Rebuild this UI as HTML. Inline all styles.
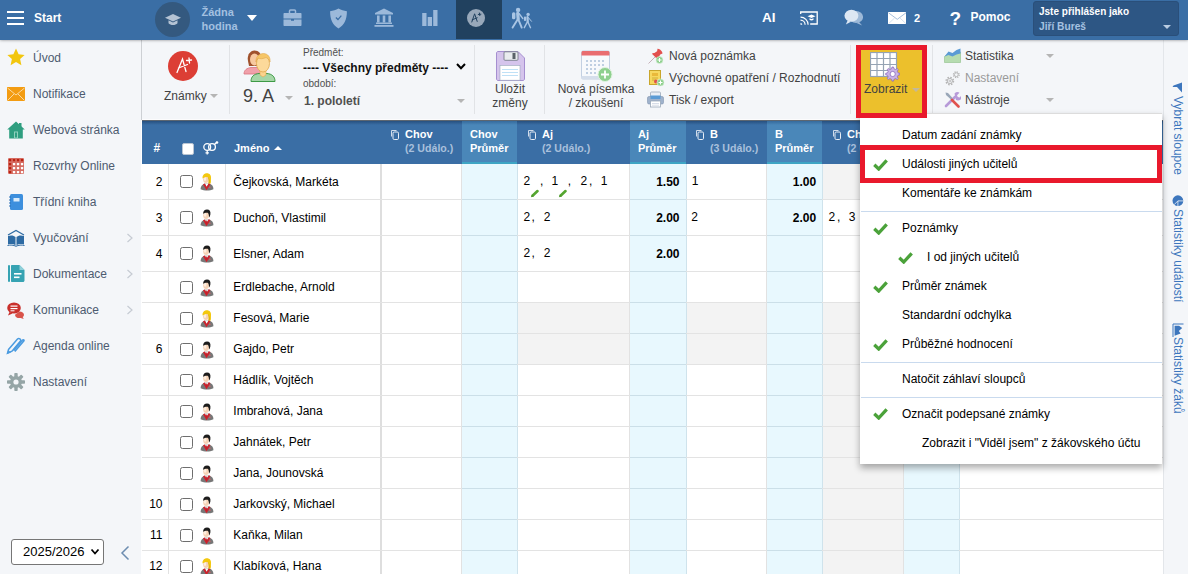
<!DOCTYPE html>
<html><head><meta charset="utf-8"><title>Známky</title>
<style>
*{box-sizing:border-box;margin:0;padding:0}
html,body{width:1188px;height:574px;overflow:hidden;background:#fff;font-family:"Liberation Sans",sans-serif;font-size:12px;color:#000}
.abs{position:absolute}
#top{position:absolute;left:0;top:0;width:1188px;height:40px;background:#3a6ea5;box-shadow:0 0 3px rgba(0,0,0,.45);z-index:3}
#top .t{position:absolute;color:#fff;font-weight:bold;font-size:12px;white-space:nowrap;line-height:14px}
#side{position:absolute;left:0;top:40px;width:141px;height:534px;background:#f4f6f9}
#side .it{position:absolute;left:33px;font-size:12px;color:#4d5b70;white-space:nowrap;line-height:14px}
#side .ch{position:absolute;left:126px}
#tb{position:absolute;left:142px;top:40px;width:1021px;height:80px;background:#f4f6f9;border-bottom:1px solid #fcfcfd}
#tbl{position:absolute;left:142px;top:120px;width:1021px;height:1px;background:#5d6670}
#sbl{position:absolute;left:141px;top:40px;width:1px;height:80px;background:#cdd0d4}
#tb .l{position:absolute;font-size:12px;color:#424242;white-space:nowrap;line-height:14px}
#tb .sep{position:absolute;top:5px;width:1px;height:69px;background:#e1e3e6}
.dd{position:absolute;width:0;height:0;border-left:4px solid transparent;border-right:4px solid transparent;border-top:4px solid #b5b5b5}
#grid{position:absolute;left:142px;top:121px;width:1021px;height:453px;background:#fff;overflow:hidden}
#hdr{position:absolute;left:0;top:0;width:1021px;height:43px;background:linear-gradient(#27507f,#3a6ea5 4px)}
.h{position:absolute;color:#fff;font-weight:bold;font-size:11px;white-space:nowrap;line-height:14px}
.sub{color:#a9c0dc;font-size:10.600px}
.avg{position:absolute;top:0;height:43px;background:linear-gradient(#356a9c,#4a87b9 4px);border-bottom:2px solid #3ea5c4}
.col{position:absolute;top:43px;height:411px}
.cell{position:absolute;font-size:12px;white-space:nowrap;line-height:14px}
.cb{position:absolute;width:13px;height:13px;border:1px solid #6e6e6e;border-radius:2.500px;background:#fff}
#right{position:absolute;left:1163px;top:40px;width:25px;height:534px;background:#f4f6f9;border-left:1px solid #e3e6ea}
.vt{position:absolute;left:1176px;transform-origin:0 0;transform:rotate(90deg);color:#3d76bd;font-size:12px;white-space:nowrap;line-height:14px}
#menu{position:absolute;left:860px;top:113px;width:302px;height:350.500px;background:#fff;border-top:1px solid #dcdcdc;box-shadow:0 4px 7px rgba(0,0,0,.33)}
#menu .mi{position:absolute;left:42px;font-size:12px;color:#000;white-space:nowrap;line-height:14px}
#menu .hr{position:absolute;left:1px;width:301px;height:1px;background:#c9daee}
</style></head><body>
<div id="top">
<div class="abs" style="left:7px;top:11px;width:17px;height:2px;background:#fff"></div>
<div class="abs" style="left:7px;top:17px;width:17px;height:2px;background:#fff"></div>
<div class="abs" style="left:7px;top:23px;width:17px;height:2px;background:#fff"></div>
<div class="t" style="left:34px;top:11px">Start</div>
<div class="abs" style="left:155px;top:2px;width:35px;height:35px;border-radius:17.500px;background:#34597f"></div>
<svg class="abs" style="left:164px;top:11.500px" width="18" height="16" viewBox="0 0 18 16"><path d="M9 2l8 3.800-8 3.800-8-3.800z" fill="#b4c3d4"/><path d="M4.500 8.300v3c1 1.200 2.700 1.800 4.500 1.800s3.500-.6 4.500-1.800v-3l-4.500 2.200z" fill="#b4c3d4"/></svg>
<div class="t" style="left:201.500px;top:5px;color:#a3c0e0;font-size:11px;line-height:14.300px">Žádna<br>hodina</div>
<div class="abs" style="left:246.500px;top:15px;width:0;height:0;border-left:5.500px solid transparent;border-right:5.500px solid transparent;border-top:6px solid #fff"></div>
<!-- briefcase -->
<svg class="abs" style="left:282.500px;top:9px" width="19" height="18" viewBox="0 0 19 18"><path d="M6.500 4v-2c0-.6.400-1 1-1h4c.6 0 1 .4 1 1v2" fill="none" stroke="#9cb9da" stroke-width="1.500"/><path d="M1.500 4h16c.6 0 1 .4 1 1v4.500h-18v-4.500c0-.6.400-1 1-1z" fill="#9cb9da"/><path d="M.5 10.500h7.500v1.200h3v-1.200h7.500v5.500c0 .6-.4 1-1 1h-16c-.6 0-1-.4-1-1z" fill="#9cb9da"/></svg>
<!-- shield -->
<svg class="abs" style="left:328.500px;top:7.500px" width="19" height="21" viewBox="0 0 18 20"><path d="M9 .5c2.500 1.500 5 2.300 8 2.500 0 8-2.500 13-8 16.500C3.500 16 1 11 1 3c3-.2 5.500-1 8-2.500z" fill="#9cb9da"/><path d="M6.500 9l2 2 3.200-3.800" fill="none" stroke="#3a6ea5" stroke-width="1.200"/></svg>
<!-- bank -->
<svg class="abs" style="left:374px;top:8px" width="20" height="19" viewBox="0 0 20 19"><path d="M10 .5l9 4.500v1.500h-18v-1.500z" fill="#9cb9da"/><rect x="3" y="7.500" width="2.600" height="7" fill="#9cb9da"/><rect x="8.700" y="7.500" width="2.600" height="7" fill="#9cb9da"/><rect x="14.400" y="7.500" width="2.600" height="7" fill="#9cb9da"/><rect x="2" y="14.500" width="16" height="1.500" fill="#9cb9da"/><rect x=".5" y="17" width="19" height="1.800" fill="#9cb9da"/></svg>
<!-- bars -->
<svg class="abs" style="left:421px;top:10px" width="17" height="16" viewBox="0 0 17 16"><rect x="1.200" y="3" width="4.300" height="13" fill="#9cb9da"/><rect x="6.700" y="7" width="4.300" height="9" fill="#9cb9da"/><rect x="12.200" y="0" width="4.300" height="16" fill="#9cb9da"/></svg>
<!-- active -->
<div class="abs" style="left:456px;top:0;width:46px;height:38.500px;background:#21415f"></div>
<div class="abs" style="left:467px;top:9px;width:18px;height:18px;border-radius:9px;background:#98a8ba"></div>
<svg class="abs" style="left:467px;top:9px" width="18" height="18" viewBox="0 0 18 18"><path d="M4.800 13l2.800-8.200 2.600 7.600M5.200 10.800l5-2M11.300 5.500l2.600-.3M12.400 4l.4 2.600" fill="none" stroke="#21415f" stroke-width="1" stroke-linecap="round"/></svg>
<!-- walkers -->
<svg class="abs" style="left:510px;top:7px" width="24" height="22" viewBox="0 0 24 22"><g fill="none" stroke="#a9c5e4" stroke-linecap="round"><circle cx="8.100" cy="2.900" r="2.200" fill="#a9c5e4" stroke="none"/><path d="M7.700 6.300L8.200 12" stroke-width="3.200"/><rect x="2" y="5.200" width="3.400" height="7" rx="1.500" fill="#a9c5e4" stroke="none"/><path d="M7.800 12.200L2.600 20.600M8.200 12.200L11.700 20.600" stroke-width="1.900"/><path d="M9 6.500L12.800 11.500" stroke-width="1.300"/><circle cx="18.100" cy="7.400" r="1.700" fill="#a9c5e4" stroke="none"/><path d="M17.500 10.200L17.700 14.500" stroke-width="2.300"/><rect x="13.900" y="9.600" width="2.200" height="4.500" rx="1" fill="#a9c5e4" stroke="none"/><path d="M17.500 14.700L14.300 20.700M17.800 14.700L20.500 20.700" stroke-width="1.400"/><path d="M18.300 10.500L21.500 14.300" stroke-width="1"/></g></svg>
<div class="t" style="left:762px;top:11px;font-size:13.500px">AI</div>
<!-- cast -->
<svg class="abs" style="left:800px;top:11px" width="18" height="15" viewBox="0 0 18 15"><path d="M.7 3v-2h16.500v12h-7" fill="none" stroke="#fff" stroke-width="1.300"/><path d="M.5 13.800v-1.800a1.800 1.800 0 0 1 1.800 1.800z" fill="#fff"/><path d="M.5 9.200a4.600 4.600 0 0 1 4.600 4.600M.5 6.200a7.600 7.600 0 0 1 7.600 7.600" fill="none" stroke="#fff" stroke-width="1.200"/><path d="M11.500 3.500l4 1.800-4 1.800-4-1.800z M9.500 7.200v1.500c1 1 3 1 4 0v-1.500l-2 .9z" fill="#fff"/></svg>
<!-- chat -->
<svg class="abs" style="left:843.500px;top:9px" width="19.500" height="18" viewBox="0 0 21 19"><ellipse cx="13" cy="8.500" rx="7.500" ry="6.500" fill="#9db9d8"/><path d="M16 13.500l3.500 4-6-2.500z" fill="#9db9d8"/><ellipse cx="8" cy="7" rx="7.500" ry="6.500" fill="#dce7f3"/><path d="M4 12l-2 4.500 5.500-3z" fill="#dce7f3"/></svg>
<!-- envelope -->
<svg class="abs" style="left:887.700px;top:11.700px" width="18.500" height="12.200" viewBox="0 0 20 13" preserveAspectRatio="none"><rect x="0" y="0" width="20" height="13" fill="#fff"/><path d="M.5 .8l9.500 7 9.500-7" fill="none" stroke="#9db9d8" stroke-width="1"/><path d="M.5 12.500l6.500-6M19.500 12.500l-6.500-6" fill="none" stroke="#c9d8ea" stroke-width=".8"/></svg>
<div class="t" style="left:914px;top:11px;font-size:11px">2</div>
<div class="t" style="left:949.500px;top:8px;font-size:19px;line-height:22px">?</div>
<div class="t" style="left:970.500px;top:10px">Pomoc</div>
<div class="abs" style="left:1033px;top:1px;width:146px;height:35px;background:#2d5684;border:1px solid #2a4f7a;border-radius:3px"></div>
<div class="t" style="left:1039px;top:5px;font-size:10px">Jste přihlášen jako</div>
<div class="t" style="left:1039px;top:19.600px;font-size:10.200px;color:#a6c2e1">Jiří Bureš</div>
<div class="abs" style="left:1163px;top:25px;width:0;height:0;border-left:4px solid transparent;border-right:4px solid transparent;border-top:4px solid #b9cce2"></div>

</div>
<div id="side">
<!-- y positions relative to #side (top=40) -->
<svg class="abs" style="left:7px;top:8px" width="18" height="18" viewBox="0 0 18 18"><path d="M9 .5l2.600 5.700 6 .7-4.500 4.100 1.300 6.200-5.400-3.200-5.400 3.200 1.300-6.200-4.500-4.100 6-.7z" fill="#f2c60e"/></svg>
<div class="it" style="top:11px">Úvod</div>
<svg class="abs" style="left:7px;top:47px" width="18" height="14" viewBox="0 0 18 14"><rect width="18" height="14" fill="#f39c12"/><path d="M.5 1l8.500 7 8.500-7M.5 13.500l6.500-6.500M17.500 13.500l-6.500-6.500" fill="none" stroke="#fbd9a0" stroke-width="1"/></svg>
<div class="it" style="top:47px">Notifikace</div>
<svg class="abs" style="left:7px;top:81px" width="18" height="18" viewBox="0 0 18 18"><path d="M9 .5l8.800 8h-2v9h-13.600v-9h-2z" fill="#2f9e80"/><rect x="12" y="2" width="2.500" height="4" fill="#2f9e80"/><rect x="7" y="10.500" width="4" height="6.500" fill="#8fd1bd"/><rect x="8" y="11.500" width="2" height="5" fill="#2f9e80"/></svg>
<div class="it" style="top:83px">Webová stránka</div>
<svg class="abs" style="left:8px;top:118px" width="16" height="16" viewBox="0 0 16 16"><rect width="16" height="16" rx="1.200" fill="#d66c62"/><rect x="0.9" y="0.9" width="2.300" height="2.300" rx=".5" fill="#b8200f"/><rect x="0.9" y="4.9" width="2.300" height="2.300" rx=".5" fill="#b8200f"/><rect x="0.9" y="8.9" width="2.300" height="2.300" rx=".5" fill="#b8200f"/><rect x="0.9" y="12.9" width="2.300" height="2.300" rx=".5" fill="#b8200f"/><rect x="4.9" y="0.9" width="2.300" height="2.300" rx=".5" fill="#b8200f"/><rect x="4.9" y="4.9" width="2.300" height="2.300" rx=".5" fill="#fff"/><rect x="4.9" y="8.9" width="2.300" height="2.300" rx=".5" fill="#fff"/><rect x="4.9" y="12.9" width="2.300" height="2.300" rx=".5" fill="#fff"/><rect x="8.9" y="0.9" width="2.300" height="2.300" rx=".5" fill="#b8200f"/><rect x="8.9" y="4.9" width="2.300" height="2.300" rx=".5" fill="#fff"/><rect x="8.9" y="8.9" width="2.300" height="2.300" rx=".5" fill="#fff"/><rect x="8.9" y="12.9" width="2.300" height="2.300" rx=".5" fill="#fff"/><rect x="12.9" y="0.9" width="2.300" height="2.300" rx=".5" fill="#b8200f"/><rect x="12.9" y="4.9" width="2.300" height="2.300" rx=".5" fill="#fff"/><rect x="12.9" y="8.9" width="2.300" height="2.300" rx=".5" fill="#fff"/><rect x="12.9" y="12.9" width="2.300" height="2.300" rx=".5" fill="#fff"/></svg>
<div class="it" style="top:119px">Rozvrhy Online</div>
<svg class="abs" style="left:9px;top:154px" width="14" height="16" viewBox="0 0 14 16"><rect x="1" y="0" width="13" height="16" rx="1.500" fill="#3d8fdd"/><rect x="4.500" y="4" width="6" height="3.500" fill="#d9ebfb"/><g stroke="#2a6fb5" stroke-width="1"><path d="M0 3h2M0 6h2M0 9h2M0 12h2"/></g></svg>
<div class="it" style="top:155px">Třídní kniha</div>
<svg class="abs" style="left:7px;top:189px" width="18" height="18" viewBox="0 0 18 18"><path d="M1 6l8-4.500 8 4.500" fill="none" stroke="#2d6aa3" stroke-width="1.200"/><path d="M1 7c3-1 6-.5 7.500 1v8.500c-1.500-1.300-4.500-1.800-7.500-1z" fill="#2d6aa3"/><path d="M17 7c-3-1-6-.5-7.500 1v8.500c1.500-1.300 4.500-1.800 7.500-1z" fill="#2d6aa3"/><path d="M.5 16.500c3-.8 6-.5 8.500.8 2.500-1.300 5.500-1.600 8.500-.8" fill="none" stroke="#2d6aa3" stroke-width="1"/></svg>
<div class="it" style="top:191px">Vyučování</div>
<svg class="abs" style="left:8px;top:225px" width="17" height="17" viewBox="0 0 17 17"><rect x="0" y="0" width="2" height="17" rx="1" fill="#36a3b3"/><path d="M4 0h7.500l5 5v10.500c0 .8-.7 1.500-1.500 1.500h-11c-.6 0-1-.4-1-1v-15c0-.6.400-1 1-1z" fill="#36a3b3"/><path d="M11.500 0v5h5z" fill="#8fd0da"/><rect x="6" y="8" width="7.500" height="1.600" fill="#fff"/><rect x="6" y="11.500" width="5.500" height="1.600" fill="#fff"/></svg>
<div class="it" style="top:227px">Dokumentace</div>
<svg class="abs" style="left:7px;top:262px" width="18" height="17" viewBox="0 0 18 17"><path d="M12.500 9.500c2.500 0 4.500 1.300 4.500 3.200 0 1-.6 1.800-1.300 2.400l1 1.900-3-1c-3 .5-5.700-.8-5.700-3.300z" fill="#d9534a"/><ellipse cx="7" cy="6" rx="6.800" ry="5.500" fill="#c9302c"/><path d="M2.500 10l-1.500 3.500 4.500-2z" fill="#c9302c"/><rect x="3.500" y="3.500" width="7" height="1.200" fill="#fff"/><rect x="3.500" y="6" width="7" height="1.200" fill="#fff"/><rect x="3.500" y="8.300" width="4" height="1" fill="#fff"/></svg>
<div class="it" style="top:263px">Komunikace</div>
<svg class="abs" style="left:6px;top:297px" width="19" height="18" viewBox="0 0 19 18"><path d="M2.500 12.500l9-10.500c1.500-1.500 4 .5 2.800 2.200l-8.300 10-4.500 2z" fill="none" stroke="#4a9be0" stroke-width="1.500"/><path d="M7.500 13.500l9-10.500c.8-.8 2 .2 1.300 1.100l-9 10.500" fill="none" stroke="#4a9be0" stroke-width="1.500"/><path d="M1 17l1.200-4 2.800 2.500z" fill="#4a9be0"/></svg>
<div class="it" style="top:299px">Agenda online</div>
<svg class="abs" style="left:7px;top:333px" width="18" height="18" viewBox="0 0 18 18"><g fill="#95a5a6"><circle cx="9" cy="9" r="6"/><g id="t"><rect x="7.300" y="0" width="3.400" height="18" rx=".8"/></g><rect x="7.300" y="0" width="3.400" height="18" rx=".8" transform="rotate(45 9 9)"/><rect x="7.300" y="0" width="3.400" height="18" rx=".8" transform="rotate(90 9 9)"/><rect x="7.300" y="0" width="3.400" height="18" rx=".8" transform="rotate(135 9 9)"/></g><circle cx="9" cy="9" r="2.600" fill="#f4f6f9"/></svg>
<div class="it" style="top:335px">Nastavení</div>
<svg class="ch" style="top:193px" width="8" height="10" viewBox="0 0 8 10"><path d="M1.500 1l4.500 4-4.500 4" fill="none" stroke="#c6cbd3" stroke-width="1.200"/></svg>
<svg class="ch" style="top:229px" width="8" height="10" viewBox="0 0 8 10"><path d="M1.500 1l4.500 4-4.500 4" fill="none" stroke="#c6cbd3" stroke-width="1.200"/></svg>
<svg class="ch" style="top:265px" width="8" height="10" viewBox="0 0 8 10"><path d="M1.500 1l4.500 4-4.500 4" fill="none" stroke="#c6cbd3" stroke-width="1.200"/></svg>
<!-- year select -->
<div class="abs" style="left:11px;top:499px;width:93px;height:26px;background:#fff;border:1px solid #767676;border-radius:3px"></div>
<div class="abs" style="left:23px;top:504px;font-size:13px;line-height:16px;color:#000">2025/2026</div>
<svg class="abs" style="left:90px;top:508px" width="10" height="8" viewBox="0 0 10 8"><path d="M1.500 1.500l3.500 4 3.500-4" fill="none" stroke="#000" stroke-width="1.800"/></svg>
<svg class="abs" style="left:120px;top:505px" width="10" height="16" viewBox="0 0 10 16"><path d="M8.500 1.500l-6.500 6.500 6.500 6.500" fill="none" stroke="#6d8db0" stroke-width="1.500"/></svg>

</div>
<div id="tb">
<!-- coordinates relative to #tb (left=142, top=40) -->
<!-- Znamky -->
<div class="abs" style="left:26px;top:10.500px;width:30px;height:30px;border-radius:15px;background:#dc3e35"></div>
<svg class="abs" style="left:26px;top:10.500px" width="30" height="30" viewBox="0 0 30 30"><path d="M9 21.500l5.500-13.500 3.500 12.500M10.500 17l9-3.500M18.500 9.500l5-.5M21 7l.5 5" fill="none" stroke="#fff" stroke-width="1.300" stroke-linecap="round"/></svg>
<div class="l" style="left:22px;top:49px">Známky</div>
<div class="dd" style="left:68px;top:54px"></div>
<div class="sep" style="left:87px"></div>
<!-- class people icon -->
<svg class="abs" style="left:101px;top:9px" width="36" height="34" viewBox="0 0 36 34"><path d="M1 25c0-4 3-6 7-6.500h6c4 .5 6 2.500 6 6.500z" fill="#f0a0aa" stroke="#d8737f" stroke-width=".8"/><path d="M5 12c-1-5 1-10 6.500-10.500 5 0 7.500 4 6.500 10.500l-1 5h-11z" fill="#a0522d"/><ellipse cx="11.500" cy="10.500" rx="4.500" ry="6" fill="#f7c9a0"/><path d="M8 32.500c0-5 3-7.500 8-8h8c5 .5 8 3 8 8z" fill="#a5d6a7" stroke="#3d9a45" stroke-width="1"/><path d="M17 21h6v5l-3 2-3-2z" fill="#fbd38d" stroke="#e0a84e" stroke-width=".6"/><ellipse cx="20" cy="14.500" rx="6.500" ry="8.500" fill="#fcd99a" stroke="#e0a84e" stroke-width=".8"/><path d="M13 13c-.5-5 3-8.500 7.500-8.500 4.500.3 7 3.500 6.500 8.500-1-2.500-2.500-4-4-4.500-3 1.500-6.500 1.500-8 .5-1 1-1.700 2.500-2 4z" fill="#f6c667" stroke="#e0a84e" stroke-width=".6"/></svg>
<div class="l" style="left:101px;top:45px;font-size:18px;line-height:22px">9. A</div>
<div class="dd" style="left:143px;top:56px"></div>
<div class="l" style="left:161px;top:7px;font-size:10px;line-height:12px;color:#505050">Předmět:</div>
<div class="l" style="left:161px;top:20px;font-size:12px;line-height:16px;font-weight:bold;color:#111">---- Všechny předměty ----</div>
<svg class="abs" style="left:313px;top:22px" width="12" height="9" viewBox="0 0 12 9"><path d="M2 2l4 4.300 4-4.300" fill="none" stroke="#000" stroke-width="2"/></svg>
<div class="l" style="left:161px;top:38px;font-size:10px;line-height:12px;color:#505050">období:</div>
<div class="l" style="left:162px;top:54px;font-weight:bold;color:#505050">1. pololetí</div>
<div class="dd" style="left:315px;top:59px"></div>
<div class="sep" style="left:332px"></div>
<!-- floppy -->
<svg class="abs" style="left:353px;top:11px" width="30" height="30" viewBox="0 0 30 30"><path d="M1.500 2c0-.8.700-1.500 1.500-1.500h20l6.500 6.500v21c0 .8-.7 1.500-1.500 1.500h-25c-.8 0-1.500-.7-1.500-1.500z" fill="#d5c4ec" stroke="#a58fd0" stroke-width="1"/><rect x="9" y=".8" width="14" height="8.500" rx="1" fill="#e9ecef" stroke="#6c757d" stroke-width=".8"/><rect x="17.500" y="2" width="3" height="6" fill="#5a6268"/><rect x="5" y="14.500" width="20" height="14.700" fill="#fff" stroke="#9ab" stroke-width=".6"/><path d="M7 18.500h16M7 21.500h16M7 24.500h16" stroke="#bfe1f6" stroke-width="1"/></svg>
<div class="l" style="left:338px;width:60px;text-align:center;top:42px">Uložit<br>změny</div>
<div class="sep" style="left:402px"></div>
<!-- calendar -->
<svg class="abs" style="left:439px;top:10px" width="32" height="32" viewBox="0 0 32 32"><rect x=".5" y="1" width="28" height="28" rx="1.500" fill="#f7f9fc" stroke="#c3d0e2" stroke-width="1"/><path d="M.5 2.500c0-.8.700-1.500 1.500-1.500h25c.8 0 1.500.7 1.500 1.500v3h-28z" fill="#e96d70"/><path d="M.5 26h28v2c0 .6-.5 1-1 1h-26c-.6 0-1-.4-1-1z" fill="#d5deeb"/><g fill="#bfcfe2"><rect x="5" y="10" width="2" height="2"/><rect x="9" y="10" width="2" height="2"/><rect x="13" y="10" width="2" height="2"/><rect x="17" y="10" width="2" height="2"/><rect x="21" y="10" width="2" height="2"/><rect x="5" y="14" width="2" height="2"/><rect x="9" y="14" width="2" height="2"/><rect x="13" y="14" width="2" height="2"/><rect x="17" y="14" width="2" height="2"/><rect x="21" y="14" width="2" height="2"/><rect x="5" y="18" width="2" height="2"/><rect x="9" y="18" width="2" height="2"/><rect x="13" y="18" width="2" height="2"/><rect x="5" y="22" width="2" height="2"/><rect x="9" y="22" width="2" height="2"/><rect x="13" y="22" width="2" height="2"/></g><circle cx="24" cy="24.500" r="7" fill="#8fd08f" stroke="#dff2df" stroke-width="1"/><path d="M24 20.500v8M20 24.500h8" stroke="#fff" stroke-width="1.800"/></svg>
<div class="l" style="left:404px;width:100px;text-align:center;top:42px">Nová písemka<br>/ zkoušení</div>
<!-- pin -->
<svg class="abs" style="left:506px;top:8px" width="16" height="16" viewBox="0 0 16 16"><path d="M.5 15.500l6.500-6.500" stroke="#b9a0a8" stroke-width=".8"/><path d="M9.500.8c1.800-.6 5.300 2.800 5 4.800l-2.300 1-1.500 2.700c.3 1-.2 2-.8 2.500l-6-6c.6-.7 1.500-1 2.500-.8l2.700-1.700z" fill="#e2504e"/><circle cx="11.500" cy="12" r="3.500" fill="#8fd08f" stroke="#dff2df" stroke-width=".6"/><path d="M11.500 10v4M9.500 12h4" stroke="#fff" stroke-width="1"/></svg>
<div class="l" style="left:527px;top:9px">Nová poznámka</div>
<!-- certificate -->
<svg class="abs" style="left:507px;top:30px" width="16" height="17" viewBox="0 0 16 17"><rect x=".5" y=".5" width="11" height="14" fill="#f6d860" stroke="#c9a62c" stroke-width="1"/><rect x="3" y="3" width="6" height="3" fill="#e9b93a"/><path d="M3 8h6M3 10h4" stroke="#c9a62c" stroke-width=".8"/><circle cx="7" cy="11.500" r="2" fill="#e0524e"/><circle cx="11.500" cy="12.500" r="3.500" fill="#8fd08f" stroke="#dff2df" stroke-width=".6"/><path d="M11.500 10.500v4M9.500 12.500h4" stroke="#fff" stroke-width="1"/></svg>
<div class="l" style="left:527px;top:31px">Výchovné opatření / Rozhodnutí</div>
<!-- printer -->
<svg class="abs" style="left:505px;top:51px" width="17" height="17" viewBox="0 0 17 17"><rect x="3.500" y="1" width="10" height="6" rx="1" fill="#e9eef6" stroke="#9aa7b8" stroke-width=".8"/><rect x=".5" y="5.500" width="16" height="7.500" rx="1.500" fill="#9fb2cc" stroke="#7f93b0" stroke-width=".6"/><rect x="3.500" y="4.500" width="10" height="3.500" fill="#5b9bd5"/><rect x="3.500" y="10" width="10" height="6" fill="#fff" stroke="#9aa7b8" stroke-width=".8"/><path d="M5 12.500h7M5 14.200h7" stroke="#c5cede" stroke-width=".7"/></svg>
<div class="l" style="left:527px;top:53px">Tisk / export</div>
<div class="sep" style="left:708px"></div>
<!-- Zobrazit -->
<div class="abs" style="z-index:5;left:714px;top:5px;width:71px;height:73px;background:#ecc02c;border:5px solid #e9192c"></div>
<svg class="abs" style="z-index:5;left:728px;top:12px" width="30" height="30" viewBox="0 0 30 30"><rect x=".5" y=".5" width="26" height="24" fill="#fff" stroke="#95a3b3" stroke-width="1.200"/><path d="M7 .5v24M13.500 .5v24M20 .5v24M.5 6.500h26M.5 12.500h26M.5 18.500h26" stroke="#95a3b3" stroke-width="1.200"/><g fill="#c9b3e6" stroke="#8b6bbd" stroke-width=".8"><path d="M22 15l1.500 0 .5 1.800 1.600.7 1.600-1 1.100 1.100-1 1.600.7 1.600 1.800.5v1.500l-1.800.5-.7 1.600 1 1.600-1.100 1.100-1.600-1-1.600.7-.5 1.800h-1.500l-.5-1.800-1.600-.7-1.600 1-1.100-1.100 1-1.600-.7-1.600-1.800-.5v-1.500l1.800-.5.700-1.600-1-1.600 1.100-1.100 1.600 1 1.600-.7z"/></g><circle cx="22.700" cy="22" r="2.600" fill="#fff" stroke="#8b6bbd" stroke-width=".8"/></svg>
<div class="l" style="z-index:5;left:722px;top:42px">Zobrazit</div>
<div class="dd" style="z-index:5;left:770px;top:48px;border-top-color:#c2b89a"></div>
<div class="sep" style="left:790px"></div>
<!-- statistika -->
<svg class="abs" style="left:802px;top:8px" width="17" height="15" viewBox="0 0 17 15"><path d="M.5 14.500v-6l4-3 4 1.500 4-2 4-1v10.500z" fill="#b6dcb0" stroke="#8fbf88" stroke-width=".6"/><path d="M.5 8.500l4-5 4 1.500 4-3 4-1.500v5l-4 1-4 2-4-1.500z" fill="#5b9bd5"/></svg>
<div class="l" style="left:823px;top:9px">Statistika</div>
<div class="dd" style="left:904px;top:14px"></div>
<svg class="abs" style="left:802px;top:30px" width="17" height="17" viewBox="0 0 17 17"><g fill="none" stroke="#b5b5b5"><circle cx="5.800" cy="11" r="3.600" stroke-width="1.600" stroke-dasharray="1.500 1.330"/><circle cx="5.800" cy="11" r="2.600" stroke-width="1"/><circle cx="5.800" cy="11" r=".9" stroke-width=".8"/><circle cx="12.300" cy="4.700" r="2.800" stroke-width="1.400" stroke-dasharray="1.200 1"/><circle cx="12.300" cy="4.700" r="1.900" stroke-width=".9"/></g></svg>
<div class="l" style="left:823px;top:31px;color:#9a9a9a">Nastavení</div>
<svg class="abs" style="left:802px;top:51px" width="17" height="17" viewBox="0 0 17 17"><path d="M2 15l9-9" stroke="#b79ad8" stroke-width="2.600" stroke-linecap="round"/><path d="M10.500 2.500c1.500-1.500 3.500-1.800 5-.8l-2.500 2.500.8 1.800 1.800.5 2-2.300c.6 1.600 0 3.500-1.300 4.500-1.300 1-3 1-4.300.3" fill="#b79ad8"/><path d="M1.500 1.500l2.500.5 4.500 5-1.500 1.500-5-4.500z" fill="#9aa7b8"/><path d="M8 9l6.500 6.500" stroke="#e0524e" stroke-width="2.600" stroke-linecap="round"/></svg>
<div class="l" style="left:823px;top:53px">Nástroje</div>
<div class="dd" style="left:904px;top:58px"></div>

</div>
<div id="tbl"></div><div id="sbl"></div>
<div id="grid">
<div id="hdr"></div>
<div class="col" style="left:320px;width:55px;background:#e8f8fe"></div>
<div class="col" style="left:488px;width:56px;background:#e8f8fe"></div>
<div class="col" style="left:625px;width:55px;background:#e8f8fe"></div>
<div class="col" style="left:762px;width:55px;background:#e8f8fe"></div>
<div class="abs" style="left:375px;top:182px;width:113px;height:62px;background:#f3f3f3"></div>
<div class="abs" style="left:544px;top:182px;width:81px;height:62px;background:#f3f3f3"></div>
<div class="abs" style="left:681px;top:43px;width:81px;height:36px;background:#f3f3f3"></div>
<div class="abs" style="left:681px;top:182px;width:81px;height:271px;background:#f3f3f3"></div>
<div class="col" style="left:26px;width:1px;background:#e2e2e2"></div>
<div class="col" style="left:83px;width:1px;background:#e2e2e2"></div>
<div class="col" style="left:319px;width:1px;background:#e2e2e2"></div>
<div class="col" style="left:375px;width:1px;background:#cfe3ec"></div>
<div class="col" style="left:487px;width:1px;background:#e2e2e2"></div>
<div class="col" style="left:544px;width:1px;background:#cfe3ec"></div>
<div class="col" style="left:624px;width:1px;background:#e2e2e2"></div>
<div class="col" style="left:680px;width:1px;background:#cfe3ec"></div>
<div class="col" style="left:761px;width:1px;background:#e2e2e2"></div>
<div class="col" style="left:817px;width:1px;background:#cfe3ec"></div>
<div class="col" style="left:238px;width:2px;background:#dedede"></div>
<div class="abs" style="left:0;top:78px;width:1021px;height:1px;background:#e3e3e3"></div>
<div class="abs" style="left:0;top:114px;width:1021px;height:1px;background:#e3e3e3"></div>
<div class="abs" style="left:0;top:150px;width:1021px;height:1px;background:#e3e3e3"></div>
<div class="abs" style="left:0;top:181px;width:1021px;height:1px;background:#e3e3e3"></div>
<div class="abs" style="left:0;top:212px;width:1021px;height:1px;background:#e3e3e3"></div>
<div class="abs" style="left:0;top:243px;width:1021px;height:1px;background:#e3e3e3"></div>
<div class="abs" style="left:0;top:274px;width:1021px;height:1px;background:#e3e3e3"></div>
<div class="abs" style="left:0;top:305px;width:1021px;height:1px;background:#e3e3e3"></div>
<div class="abs" style="left:0;top:336px;width:1021px;height:1px;background:#e3e3e3"></div>
<div class="abs" style="left:0;top:367px;width:1021px;height:1px;background:#e3e3e3"></div>
<div class="abs" style="left:0;top:398px;width:1021px;height:1px;background:#e3e3e3"></div>
<div class="abs" style="left:0;top:429px;width:1021px;height:1px;background:#e3e3e3"></div>
<div class="abs" style="left:0;top:460px;width:1021px;height:1px;background:#e3e3e3"></div>
<div class="abs" style="left:320px;top:78px;width:55px;height:1px;background:#cbdfe8"></div>
<div class="abs" style="left:320px;top:114px;width:55px;height:1px;background:#cbdfe8"></div>
<div class="abs" style="left:320px;top:150px;width:55px;height:1px;background:#cbdfe8"></div>
<div class="abs" style="left:320px;top:181px;width:55px;height:1px;background:#cbdfe8"></div>
<div class="abs" style="left:320px;top:212px;width:55px;height:1px;background:#cbdfe8"></div>
<div class="abs" style="left:320px;top:243px;width:55px;height:1px;background:#cbdfe8"></div>
<div class="abs" style="left:320px;top:274px;width:55px;height:1px;background:#cbdfe8"></div>
<div class="abs" style="left:320px;top:305px;width:55px;height:1px;background:#cbdfe8"></div>
<div class="abs" style="left:320px;top:336px;width:55px;height:1px;background:#cbdfe8"></div>
<div class="abs" style="left:320px;top:367px;width:55px;height:1px;background:#cbdfe8"></div>
<div class="abs" style="left:320px;top:398px;width:55px;height:1px;background:#cbdfe8"></div>
<div class="abs" style="left:320px;top:429px;width:55px;height:1px;background:#cbdfe8"></div>
<div class="abs" style="left:320px;top:460px;width:55px;height:1px;background:#cbdfe8"></div>
<div class="abs" style="left:488px;top:78px;width:56px;height:1px;background:#cbdfe8"></div>
<div class="abs" style="left:488px;top:114px;width:56px;height:1px;background:#cbdfe8"></div>
<div class="abs" style="left:488px;top:150px;width:56px;height:1px;background:#cbdfe8"></div>
<div class="abs" style="left:488px;top:181px;width:56px;height:1px;background:#cbdfe8"></div>
<div class="abs" style="left:488px;top:212px;width:56px;height:1px;background:#cbdfe8"></div>
<div class="abs" style="left:488px;top:243px;width:56px;height:1px;background:#cbdfe8"></div>
<div class="abs" style="left:488px;top:274px;width:56px;height:1px;background:#cbdfe8"></div>
<div class="abs" style="left:488px;top:305px;width:56px;height:1px;background:#cbdfe8"></div>
<div class="abs" style="left:488px;top:336px;width:56px;height:1px;background:#cbdfe8"></div>
<div class="abs" style="left:488px;top:367px;width:56px;height:1px;background:#cbdfe8"></div>
<div class="abs" style="left:488px;top:398px;width:56px;height:1px;background:#cbdfe8"></div>
<div class="abs" style="left:488px;top:429px;width:56px;height:1px;background:#cbdfe8"></div>
<div class="abs" style="left:488px;top:460px;width:56px;height:1px;background:#cbdfe8"></div>
<div class="abs" style="left:625px;top:78px;width:55px;height:1px;background:#cbdfe8"></div>
<div class="abs" style="left:625px;top:114px;width:55px;height:1px;background:#cbdfe8"></div>
<div class="abs" style="left:625px;top:150px;width:55px;height:1px;background:#cbdfe8"></div>
<div class="abs" style="left:625px;top:181px;width:55px;height:1px;background:#cbdfe8"></div>
<div class="abs" style="left:625px;top:212px;width:55px;height:1px;background:#cbdfe8"></div>
<div class="abs" style="left:625px;top:243px;width:55px;height:1px;background:#cbdfe8"></div>
<div class="abs" style="left:625px;top:274px;width:55px;height:1px;background:#cbdfe8"></div>
<div class="abs" style="left:625px;top:305px;width:55px;height:1px;background:#cbdfe8"></div>
<div class="abs" style="left:625px;top:336px;width:55px;height:1px;background:#cbdfe8"></div>
<div class="abs" style="left:625px;top:367px;width:55px;height:1px;background:#cbdfe8"></div>
<div class="abs" style="left:625px;top:398px;width:55px;height:1px;background:#cbdfe8"></div>
<div class="abs" style="left:625px;top:429px;width:55px;height:1px;background:#cbdfe8"></div>
<div class="abs" style="left:625px;top:460px;width:55px;height:1px;background:#cbdfe8"></div>
<div class="abs" style="left:762px;top:78px;width:55px;height:1px;background:#cbdfe8"></div>
<div class="abs" style="left:762px;top:114px;width:55px;height:1px;background:#cbdfe8"></div>
<div class="abs" style="left:762px;top:150px;width:55px;height:1px;background:#cbdfe8"></div>
<div class="abs" style="left:762px;top:181px;width:55px;height:1px;background:#cbdfe8"></div>
<div class="abs" style="left:762px;top:212px;width:55px;height:1px;background:#cbdfe8"></div>
<div class="abs" style="left:762px;top:243px;width:55px;height:1px;background:#cbdfe8"></div>
<div class="abs" style="left:762px;top:274px;width:55px;height:1px;background:#cbdfe8"></div>
<div class="abs" style="left:762px;top:305px;width:55px;height:1px;background:#cbdfe8"></div>
<div class="abs" style="left:762px;top:336px;width:55px;height:1px;background:#cbdfe8"></div>
<div class="abs" style="left:762px;top:367px;width:55px;height:1px;background:#cbdfe8"></div>
<div class="abs" style="left:762px;top:398px;width:55px;height:1px;background:#cbdfe8"></div>
<div class="abs" style="left:762px;top:429px;width:55px;height:1px;background:#cbdfe8"></div>
<div class="abs" style="left:762px;top:460px;width:55px;height:1px;background:#cbdfe8"></div>
<div class="cell" style="left:0;width:20.500px;text-align:right;top:54px">2</div>
<div class="cb" style="left:38px;top:54px"></div>
<svg class="abs" style="left:57.69999999999999px;top:52.0px" width="14" height="18" viewBox="0 0 14 18"><path d="M.6 16.300C.6 12.500 2.800 11 5.300 10.400L8.700 10.400C11.500 11 13.400 12.500 13.400 16.300 10 17.900 4 17.900.6 16.300z" fill="#777"/><path d="M4.900 10.400L6.700 13.800 8.600 10.400z" fill="#fff"/><path d="M3 11.300L6.500 17.300 10.500 11.100 8.700 10.300 6.700 14 4.700 10.500z" fill="#d2202b"/><circle cx="9.800" cy="14.300" r=".8" fill="#e65a62"/><ellipse cx="5.900" cy="6.300" rx="2.800" ry="3.700" fill="#f6d2b5"/><ellipse cx="5" cy="6" rx="1.200" ry="1.900" fill="#fdeee0"/><path d="M2.600 5.500C2.200 2.300 4.200.2 6.800.2 9.900.2 11.300 2.400 11 5.400 10.800 7.500 11.300 9.200 10.400 10.800L8.500 10.300C9 8 8.800 5.300 7.600 4 6 3.700 3.800 4.200 2.600 5.500z" fill="#f3c80f"/><path d="M7.600 4C8.800 5.300 9 8 8.500 10.300L9.600 10.600C10 8 9.600 5 7.600 4z" fill="#d9a90a"/></svg>
<div class="cell" style="left:91.30000000000001px;top:54px">Čejkovská, Markéta</div>
<div class="cell" style="left:0;width:20.500px;text-align:right;top:90px">3</div>
<div class="cb" style="left:38px;top:90px"></div>
<svg class="abs" style="left:57.69999999999999px;top:88.0px" width="14" height="18" viewBox="0 0 14 18"><path d="M.6 16.300C.6 12.500 2.800 11 5.300 10.400L8.700 10.400C11.500 11 13.400 12.500 13.400 16.300 10 17.900 4 17.900.6 16.300z" fill="#777"/><path d="M4.900 10.400L6.700 13.800 8.600 10.400z" fill="#fff"/><path d="M3 11.300L6.500 17.300 10.500 11.100 8.700 10.300 6.700 14 4.700 10.500z" fill="#d2202b"/><path d="M6.300 11.500h.9l.4 2.500-.9 1.200-.8-1.200z" fill="#c4202a"/><circle cx="9.800" cy="14.300" r=".8" fill="#e65a62"/><ellipse cx="6.100" cy="6.200" rx="2.900" ry="3.800" fill="#f6d2b5"/><ellipse cx="5.200" cy="5.800" rx="1.300" ry="2" fill="#fdeee0"/><path d="M3.100 4.800C3 2 4.800.5 7 .5 9.700.5 10.800 2.600 10.400 5.200 10.200 6.700 9.700 7.800 9 8.600 9.100 6.300 8.700 4.700 7.700 3.700 6 3.500 4.200 3.800 3.100 4.800z" fill="#1c1c1c"/></svg>
<div class="cell" style="left:91.30000000000001px;top:90px">Duchoň, Vlastimil</div>
<div class="cell" style="left:0;width:20.500px;text-align:right;top:126px">4</div>
<div class="cb" style="left:38px;top:126px"></div>
<svg class="abs" style="left:57.69999999999999px;top:124.0px" width="14" height="18" viewBox="0 0 14 18"><path d="M.6 16.300C.6 12.500 2.800 11 5.300 10.400L8.700 10.400C11.500 11 13.400 12.500 13.400 16.300 10 17.900 4 17.900.6 16.300z" fill="#777"/><path d="M4.900 10.400L6.700 13.800 8.600 10.400z" fill="#fff"/><path d="M3 11.300L6.500 17.300 10.500 11.100 8.700 10.300 6.700 14 4.700 10.500z" fill="#d2202b"/><path d="M6.300 11.500h.9l.4 2.500-.9 1.200-.8-1.200z" fill="#c4202a"/><circle cx="9.800" cy="14.300" r=".8" fill="#e65a62"/><ellipse cx="6.100" cy="6.200" rx="2.900" ry="3.800" fill="#f6d2b5"/><ellipse cx="5.200" cy="5.800" rx="1.300" ry="2" fill="#fdeee0"/><path d="M3.100 4.800C3 2 4.800.5 7 .5 9.700.5 10.800 2.600 10.400 5.200 10.200 6.700 9.700 7.800 9 8.600 9.100 6.300 8.700 4.700 7.700 3.700 6 3.500 4.200 3.800 3.100 4.800z" fill="#1c1c1c"/></svg>
<div class="cell" style="left:91.30000000000001px;top:126px">Elsner, Adam</div>
<div class="cb" style="left:38px;top:160px"></div>
<svg class="abs" style="left:57.69999999999999px;top:157.5px" width="14" height="18" viewBox="0 0 14 18"><path d="M.6 16.300C.6 12.500 2.800 11 5.300 10.400L8.700 10.400C11.500 11 13.400 12.500 13.400 16.300 10 17.900 4 17.900.6 16.300z" fill="#777"/><path d="M4.900 10.400L6.700 13.800 8.600 10.400z" fill="#fff"/><path d="M3 11.300L6.500 17.300 10.500 11.100 8.700 10.300 6.700 14 4.700 10.500z" fill="#d2202b"/><path d="M6.300 11.500h.9l.4 2.500-.9 1.200-.8-1.200z" fill="#c4202a"/><circle cx="9.800" cy="14.300" r=".8" fill="#e65a62"/><ellipse cx="6.100" cy="6.200" rx="2.900" ry="3.800" fill="#f6d2b5"/><ellipse cx="5.200" cy="5.800" rx="1.300" ry="2" fill="#fdeee0"/><path d="M3.100 4.800C3 2 4.800.5 7 .5 9.700.5 10.800 2.600 10.400 5.200 10.200 6.700 9.700 7.800 9 8.600 9.100 6.300 8.700 4.700 7.700 3.700 6 3.500 4.200 3.800 3.100 4.800z" fill="#1c1c1c"/></svg>
<div class="cell" style="left:91.30000000000001px;top:159px">Erdlebache, Arnold</div>
<div class="cb" style="left:38px;top:191px"></div>
<svg class="abs" style="left:57.69999999999999px;top:188.5px" width="14" height="18" viewBox="0 0 14 18"><path d="M.6 16.300C.6 12.500 2.800 11 5.300 10.400L8.700 10.400C11.500 11 13.400 12.500 13.400 16.300 10 17.900 4 17.900.6 16.300z" fill="#777"/><path d="M4.900 10.400L6.700 13.800 8.600 10.400z" fill="#fff"/><path d="M3 11.300L6.500 17.300 10.500 11.100 8.700 10.300 6.700 14 4.700 10.500z" fill="#d2202b"/><circle cx="9.800" cy="14.300" r=".8" fill="#e65a62"/><ellipse cx="5.900" cy="6.300" rx="2.800" ry="3.700" fill="#f6d2b5"/><ellipse cx="5" cy="6" rx="1.200" ry="1.900" fill="#fdeee0"/><path d="M2.600 5.500C2.200 2.300 4.200.2 6.800.2 9.900.2 11.300 2.400 11 5.400 10.800 7.500 11.300 9.200 10.400 10.800L8.500 10.300C9 8 8.800 5.300 7.600 4 6 3.700 3.800 4.200 2.600 5.500z" fill="#f3c80f"/><path d="M7.600 4C8.800 5.300 9 8 8.500 10.300L9.600 10.600C10 8 9.600 5 7.600 4z" fill="#d9a90a"/></svg>
<div class="cell" style="left:91.30000000000001px;top:190px">Fesová, Marie</div>
<div class="cell" style="left:0;width:20.500px;text-align:right;top:221px">6</div>
<div class="cb" style="left:38px;top:222px"></div>
<svg class="abs" style="left:57.69999999999999px;top:219.5px" width="14" height="18" viewBox="0 0 14 18"><path d="M.6 16.300C.6 12.500 2.800 11 5.300 10.400L8.700 10.400C11.500 11 13.400 12.500 13.400 16.300 10 17.900 4 17.900.6 16.300z" fill="#777"/><path d="M4.900 10.400L6.700 13.800 8.600 10.400z" fill="#fff"/><path d="M3 11.300L6.500 17.300 10.500 11.100 8.700 10.300 6.700 14 4.700 10.500z" fill="#d2202b"/><path d="M6.300 11.500h.9l.4 2.500-.9 1.200-.8-1.200z" fill="#c4202a"/><circle cx="9.800" cy="14.300" r=".8" fill="#e65a62"/><ellipse cx="6.100" cy="6.200" rx="2.900" ry="3.800" fill="#f6d2b5"/><ellipse cx="5.200" cy="5.800" rx="1.300" ry="2" fill="#fdeee0"/><path d="M3.100 4.800C3 2 4.800.5 7 .5 9.700.5 10.800 2.600 10.400 5.200 10.200 6.700 9.700 7.800 9 8.600 9.100 6.300 8.700 4.700 7.700 3.700 6 3.500 4.200 3.800 3.100 4.800z" fill="#1c1c1c"/></svg>
<div class="cell" style="left:91.30000000000001px;top:221px">Gajdo, Petr</div>
<div class="cb" style="left:38px;top:253px"></div>
<svg class="abs" style="left:57.69999999999999px;top:250.5px" width="14" height="18" viewBox="0 0 14 18"><path d="M.6 16.300C.6 12.500 2.800 11 5.300 10.400L8.700 10.400C11.500 11 13.400 12.500 13.400 16.300 10 17.900 4 17.900.6 16.300z" fill="#777"/><path d="M4.900 10.400L6.700 13.800 8.600 10.400z" fill="#fff"/><path d="M3 11.300L6.500 17.300 10.500 11.100 8.700 10.300 6.700 14 4.700 10.500z" fill="#d2202b"/><path d="M6.300 11.500h.9l.4 2.500-.9 1.200-.8-1.200z" fill="#c4202a"/><circle cx="9.800" cy="14.300" r=".8" fill="#e65a62"/><ellipse cx="6.100" cy="6.200" rx="2.900" ry="3.800" fill="#f6d2b5"/><ellipse cx="5.200" cy="5.800" rx="1.300" ry="2" fill="#fdeee0"/><path d="M3.100 4.800C3 2 4.800.5 7 .5 9.700.5 10.800 2.600 10.400 5.200 10.200 6.700 9.700 7.800 9 8.600 9.100 6.300 8.700 4.700 7.700 3.700 6 3.500 4.200 3.800 3.100 4.800z" fill="#1c1c1c"/></svg>
<div class="cell" style="left:91.30000000000001px;top:252px">Hádlík, Vojtěch</div>
<div class="cb" style="left:38px;top:284px"></div>
<svg class="abs" style="left:57.69999999999999px;top:281.5px" width="14" height="18" viewBox="0 0 14 18"><path d="M.6 16.300C.6 12.500 2.800 11 5.300 10.400L8.700 10.400C11.500 11 13.400 12.500 13.400 16.300 10 17.900 4 17.900.6 16.300z" fill="#777"/><path d="M4.900 10.400L6.700 13.800 8.600 10.400z" fill="#fff"/><path d="M3 11.300L6.500 17.300 10.500 11.100 8.700 10.300 6.700 14 4.700 10.500z" fill="#d2202b"/><path d="M6.300 11.500h.9l.4 2.500-.9 1.200-.8-1.200z" fill="#c4202a"/><circle cx="9.800" cy="14.300" r=".8" fill="#e65a62"/><ellipse cx="6.100" cy="6.200" rx="2.900" ry="3.800" fill="#f6d2b5"/><ellipse cx="5.200" cy="5.800" rx="1.300" ry="2" fill="#fdeee0"/><path d="M3.100 4.800C3 2 4.800.5 7 .5 9.700.5 10.800 2.600 10.400 5.200 10.200 6.700 9.700 7.800 9 8.600 9.100 6.300 8.700 4.700 7.700 3.700 6 3.500 4.200 3.800 3.100 4.800z" fill="#1c1c1c"/></svg>
<div class="cell" style="left:91.30000000000001px;top:283px">Imbrahová, Jana</div>
<div class="cb" style="left:38px;top:315px"></div>
<svg class="abs" style="left:57.69999999999999px;top:312.5px" width="14" height="18" viewBox="0 0 14 18"><path d="M.6 16.300C.6 12.500 2.800 11 5.300 10.400L8.700 10.400C11.500 11 13.400 12.500 13.400 16.300 10 17.900 4 17.900.6 16.300z" fill="#777"/><path d="M4.900 10.400L6.700 13.800 8.600 10.400z" fill="#fff"/><path d="M3 11.300L6.500 17.300 10.500 11.100 8.700 10.300 6.700 14 4.700 10.500z" fill="#d2202b"/><path d="M6.300 11.500h.9l.4 2.500-.9 1.200-.8-1.200z" fill="#c4202a"/><circle cx="9.800" cy="14.300" r=".8" fill="#e65a62"/><ellipse cx="6.100" cy="6.200" rx="2.900" ry="3.800" fill="#f6d2b5"/><ellipse cx="5.200" cy="5.800" rx="1.300" ry="2" fill="#fdeee0"/><path d="M3.100 4.800C3 2 4.800.5 7 .5 9.700.5 10.800 2.600 10.400 5.200 10.200 6.700 9.700 7.800 9 8.600 9.100 6.300 8.700 4.700 7.700 3.700 6 3.500 4.200 3.800 3.100 4.800z" fill="#1c1c1c"/></svg>
<div class="cell" style="left:91.30000000000001px;top:314px">Jahnátek, Petr</div>
<div class="cb" style="left:38px;top:346px"></div>
<svg class="abs" style="left:57.69999999999999px;top:343.5px" width="14" height="18" viewBox="0 0 14 18"><path d="M.6 16.300C.6 12.500 2.800 11 5.300 10.400L8.700 10.400C11.500 11 13.400 12.500 13.400 16.300 10 17.900 4 17.900.6 16.300z" fill="#777"/><path d="M4.900 10.400L6.700 13.800 8.600 10.400z" fill="#fff"/><path d="M3 11.300L6.500 17.300 10.500 11.100 8.700 10.300 6.700 14 4.700 10.500z" fill="#d2202b"/><path d="M6.300 11.500h.9l.4 2.500-.9 1.200-.8-1.200z" fill="#c4202a"/><circle cx="9.800" cy="14.300" r=".8" fill="#e65a62"/><ellipse cx="6.100" cy="6.200" rx="2.900" ry="3.800" fill="#f6d2b5"/><ellipse cx="5.200" cy="5.800" rx="1.300" ry="2" fill="#fdeee0"/><path d="M3.100 4.800C3 2 4.800.5 7 .5 9.700.5 10.800 2.600 10.400 5.200 10.200 6.700 9.700 7.800 9 8.600 9.100 6.300 8.700 4.700 7.700 3.700 6 3.500 4.200 3.800 3.100 4.800z" fill="#1c1c1c"/></svg>
<div class="cell" style="left:91.30000000000001px;top:345px">Jana, Jounovská</div>
<div class="cell" style="left:0;width:20.500px;text-align:right;top:376px">10</div>
<div class="cb" style="left:38px;top:377px"></div>
<svg class="abs" style="left:57.69999999999999px;top:374.5px" width="14" height="18" viewBox="0 0 14 18"><path d="M.6 16.300C.6 12.500 2.800 11 5.300 10.400L8.700 10.400C11.500 11 13.400 12.500 13.400 16.300 10 17.900 4 17.900.6 16.300z" fill="#777"/><path d="M4.900 10.400L6.700 13.800 8.600 10.400z" fill="#fff"/><path d="M3 11.300L6.500 17.300 10.500 11.100 8.700 10.300 6.700 14 4.700 10.500z" fill="#d2202b"/><path d="M6.300 11.500h.9l.4 2.500-.9 1.200-.8-1.200z" fill="#c4202a"/><circle cx="9.800" cy="14.300" r=".8" fill="#e65a62"/><ellipse cx="6.100" cy="6.200" rx="2.900" ry="3.800" fill="#f6d2b5"/><ellipse cx="5.200" cy="5.800" rx="1.300" ry="2" fill="#fdeee0"/><path d="M3.100 4.800C3 2 4.800.5 7 .5 9.700.5 10.800 2.600 10.400 5.200 10.200 6.700 9.700 7.800 9 8.600 9.100 6.300 8.700 4.700 7.700 3.700 6 3.500 4.200 3.800 3.100 4.800z" fill="#1c1c1c"/></svg>
<div class="cell" style="left:91.30000000000001px;top:376px">Jarkovský, Michael</div>
<div class="cell" style="left:0;width:20.500px;text-align:right;top:407px">11</div>
<div class="cb" style="left:38px;top:408px"></div>
<svg class="abs" style="left:57.69999999999999px;top:405.5px" width="14" height="18" viewBox="0 0 14 18"><path d="M.6 16.300C.6 12.500 2.800 11 5.300 10.400L8.700 10.400C11.500 11 13.400 12.500 13.400 16.300 10 17.900 4 17.900.6 16.300z" fill="#777"/><path d="M4.900 10.400L6.700 13.800 8.600 10.400z" fill="#fff"/><path d="M3 11.300L6.500 17.300 10.500 11.100 8.700 10.300 6.700 14 4.700 10.500z" fill="#d2202b"/><path d="M6.300 11.500h.9l.4 2.500-.9 1.200-.8-1.200z" fill="#c4202a"/><circle cx="9.800" cy="14.300" r=".8" fill="#e65a62"/><ellipse cx="6.100" cy="6.200" rx="2.900" ry="3.800" fill="#f6d2b5"/><ellipse cx="5.200" cy="5.800" rx="1.300" ry="2" fill="#fdeee0"/><path d="M3.100 4.800C3 2 4.800.5 7 .5 9.700.5 10.800 2.600 10.400 5.200 10.200 6.700 9.700 7.800 9 8.600 9.100 6.300 8.700 4.700 7.700 3.700 6 3.500 4.200 3.800 3.100 4.800z" fill="#1c1c1c"/></svg>
<div class="cell" style="left:91.30000000000001px;top:407px">Kaňka, Milan</div>
<div class="cell" style="left:0;width:20.500px;text-align:right;top:438px">12</div>
<div class="cb" style="left:38px;top:439px"></div>
<svg class="abs" style="left:57.69999999999999px;top:436.5px" width="14" height="18" viewBox="0 0 14 18"><path d="M.6 16.300C.6 12.500 2.800 11 5.300 10.400L8.700 10.400C11.500 11 13.400 12.500 13.400 16.300 10 17.900 4 17.900.6 16.300z" fill="#777"/><path d="M4.900 10.400L6.700 13.800 8.600 10.400z" fill="#fff"/><path d="M3 11.300L6.500 17.300 10.500 11.100 8.700 10.300 6.700 14 4.700 10.500z" fill="#d2202b"/><circle cx="9.800" cy="14.300" r=".8" fill="#e65a62"/><ellipse cx="5.900" cy="6.300" rx="2.800" ry="3.700" fill="#f6d2b5"/><ellipse cx="5" cy="6" rx="1.200" ry="1.900" fill="#fdeee0"/><path d="M2.600 5.500C2.200 2.300 4.200.2 6.800.2 9.900.2 11.300 2.400 11 5.400 10.800 7.500 11.300 9.200 10.400 10.800L8.500 10.300C9 8 8.800 5.300 7.600 4 6 3.700 3.800 4.200 2.600 5.500z" fill="#f3c80f"/><path d="M7.600 4C8.800 5.300 9 8 8.500 10.300L9.600 10.600C10 8 9.600 5 7.600 4z" fill="#d9a90a"/></svg>
<div class="cell" style="left:91.30000000000001px;top:438px">Klabíková, Hana</div>
<div class="cell gr" style="left:381.5px;top:53px">2</div>
<div class="cell gr" style="left:398px;top:53px">,</div>
<div class="cell gr" style="left:409.5px;top:53px">1</div>
<div class="cell gr" style="left:425.70000000000005px;top:53px">,</div>
<div class="cell gr" style="left:438.5px;top:53px">2</div>
<div class="cell gr" style="left:447px;top:53px">,</div>
<div class="cell gr" style="left:458.70000000000005px;top:53px">1</div>
<svg class="abs" style="left:388.29999999999995px;top:68.30000000000001px" width="10" height="9" viewBox="0 0 10 9"><path d="M2.800 6.400l4.700-4.300" stroke="#55a630" stroke-width="2.700" stroke-linecap="round"/><path d="M.9 8.300l.9-2.700 2 2z" fill="#4a9628"/></svg>
<svg class="abs" style="left:415.79999999999995px;top:68.30000000000001px" width="10" height="9" viewBox="0 0 10 9"><path d="M2.800 6.400l4.700-4.300" stroke="#55a630" stroke-width="2.700" stroke-linecap="round"/><path d="M.9 8.300l.9-2.700 2 2z" fill="#4a9628"/></svg>
<div class="cell gr" style="left:381.5px;top:89px">2</div>
<div class="cell gr" style="left:389.5px;top:89px">,</div>
<div class="cell gr" style="left:401.70000000000005px;top:89px">2</div>
<div class="cell gr" style="left:381.5px;top:125px">2</div>
<div class="cell gr" style="left:389.5px;top:125px">,</div>
<div class="cell gr" style="left:401.70000000000005px;top:125px">2</div>
<div class="cell gr" style="left:549.7px;top:53px">1</div>
<div class="cell gr" style="left:549.3px;top:89px">2</div>
<div class="cell gr" style="left:686.4px;top:89px">2</div>
<div class="cell gr" style="left:695px;top:89px">,</div>
<div class="cell gr" style="left:706.7px;top:89px">3</div>
<div class="cell" style="left:477.5px;width:60px;text-align:right;font-weight:bold;top:54px">1.50</div>
<div class="cell" style="left:477.5px;width:60px;text-align:right;font-weight:bold;top:90px">2.00</div>
<div class="cell" style="left:477.5px;width:60px;text-align:right;font-weight:bold;top:126px">2.00</div>
<div class="cell" style="left:614.2px;width:60px;text-align:right;font-weight:bold;top:54px">1.00</div>
<div class="cell" style="left:614.2px;width:60px;text-align:right;font-weight:bold;top:90px">2.00</div>
<!-- header cells; coords relative to #grid (142,121) -->
<div class="avg" style="left:320px;width:55px"></div>
<div class="avg" style="left:488px;width:56px"></div>
<div class="avg" style="left:625px;width:55px"></div>
<div class="avg" style="left:762px;width:55px"></div>
<div class="h" style="left:11.500px;top:20px;font-size:12px">#</div>
<div class="abs" style="left:39.500px;top:21.500px;width:12px;height:12px;background:#fff;border-radius:2px;border:1px solid #b8c4d2"></div>
<svg class="abs" style="left:60px;top:20px" width="17" height="14" viewBox="0 0 17 14"><g fill="none" stroke="#fff" stroke-width="1.300"><circle cx="5.200" cy="6" r="3.400"/><circle cx="10" cy="6" r="3.400"/><path d="M5.200 9.400v4M3.500 11.800h3.400M12.500 3.500l2.500-2.500"/></g><circle cx="15" cy="1.500" r="1.300" fill="#fff"/></svg>
<div class="h" style="left:92px;top:20px">Jméno</div>
<div class="abs" style="left:132px;top:25px;width:0;height:0;border-left:4px solid transparent;border-right:4px solid transparent;border-bottom:4px solid #fff"></div>
<svg class="abs" style="left:248px;top:7.800px" width="9" height="11" viewBox="0 0 9 11"><path d="M1.500 7.500v-6h5" fill="none" stroke="#cfdbea" stroke-width="1"/><rect x="3" y="3" width="5.500" height="7.500" rx="1.200" fill="none" stroke="#e8eef6" stroke-width="1"/></svg>
<div class="h" style="left:263px;top:6px">Chov</div>
<div class="h sub" style="left:263px;top:20px">(2 Událo.)</div>
<div class="h" style="left:328px;top:6px;line-height:14px">Chov<br>Průměr</div>
<svg class="abs" style="left:385px;top:7.800px" width="9" height="11" viewBox="0 0 9 11"><path d="M1.500 7.500v-6h5" fill="none" stroke="#cfdbea" stroke-width="1"/><rect x="3" y="3" width="5.500" height="7.500" rx="1.200" fill="none" stroke="#e8eef6" stroke-width="1"/></svg>
<div class="h" style="left:400px;top:6px">Aj</div>
<div class="h sub" style="left:400px;top:20px">(2 Událo.)</div>
<div class="h" style="left:496px;top:6px;line-height:14px">Aj<br>Průměr</div>
<svg class="abs" style="left:553px;top:7.800px" width="9" height="11" viewBox="0 0 9 11"><path d="M1.500 7.500v-6h5" fill="none" stroke="#cfdbea" stroke-width="1"/><rect x="3" y="3" width="5.500" height="7.500" rx="1.200" fill="none" stroke="#e8eef6" stroke-width="1"/></svg>
<div class="h" style="left:568px;top:6px">B</div>
<div class="h sub" style="left:568px;top:20px">(3 Událo.)</div>
<div class="h" style="left:633px;top:6px;line-height:14px">B<br>Průměr</div>
<svg class="abs" style="left:690px;top:7.800px" width="9" height="11" viewBox="0 0 9 11"><path d="M1.500 7.500v-6h5" fill="none" stroke="#cfdbea" stroke-width="1"/><rect x="3" y="3" width="5.500" height="7.500" rx="1.200" fill="none" stroke="#e8eef6" stroke-width="1"/></svg>
<div class="h" style="left:705px;top:6px">Ch</div>
<div class="h sub" style="left:705px;top:20px">(2 Událo.)</div>
<div class="h" style="left:770px;top:6px;line-height:14px">Ch<br>Průměr</div>

</div>
<div id="right"></div>
<svg class="abs" style="left:1171.500px;top:81.500px" width="11" height="11" viewBox="0 0 11 11"><path d="M.5 1h10l-5.500 5v4.500l-1.500-1z" fill="#3d76bd" transform="rotate(90 5.500 5.500)"/></svg>
<div class="vt" style="left:1185px;top:96px">Vybrat sloupce</div>
<svg class="abs" style="left:1172px;top:195px" width="12" height="12" viewBox="0 0 12 12"><circle cx="5.900" cy="5.700" r="5.400" fill="#3d76bd"/><path d="M11.500 5.900H5.900V11.500M5.900 5.900L2 9.800" fill="none" stroke="#eef3f9" stroke-width=".8"/></svg>
<div class="vt" style="left:1185px;top:209px">Statistiky událostí</div>
<svg class="abs" style="left:1171.500px;top:322.500px" width="12" height="15" viewBox="0 0 12 15"><path d="M1 14V1H11.500" fill="none" stroke="#3d76bd" stroke-width="1"/><path d="M2.600 2.700L7 2.700 10.200 5 6.800 8 8.600 10.500 2.600 12.800z" fill="#3d76bd"/></svg>
<div class="vt" style="left:1185px;top:337px">Statistiky žáků</div>

<div id="menu">
<!-- relative to #menu (860,118) -->
<div class="mi" style="top:14px">Datum zadání známky</div>
<div class="mi" style="top:43px">Události jiných učitelů</div>
<div class="mi" style="top:72px">Komentáře ke známkám</div>
<div class="hr" style="top:97px"></div>
<div class="mi" style="top:107px">Poznámky</div>
<div class="mi" style="top:136px;left:67px">I od jiných učitelů</div>
<div class="mi" style="top:165px">Průměr známek</div>
<div class="mi" style="top:194px">Standardní odchylka</div>
<div class="mi" style="top:223px">Průběžné hodnocení</div>
<div class="hr" style="top:248px"></div>
<div class="mi" style="top:258px">Natočit záhlaví sloupců</div>
<div class="hr" style="top:283px"></div>
<div class="mi" style="top:293px">Označit podepsané známky</div>
<div class="mi" style="top:322px;left:62px">Zobrazit i "Viděl jsem" z žákovského účtu</div>
<div class="abs" style="left:0;top:31px;width:302px;height:37.500px;border:5px solid #e9192c"></div>
<svg class="abs" style="left:12.5px;top:45.4px" width="15" height="12" viewBox="0 0 15 12"><path d="M1.300 5.800l4.400 4.200 8-8.700" fill="none" stroke="#4ba23a" stroke-width="3.300"/></svg>
<svg class="abs" style="left:12.5px;top:109.4px" width="15" height="12" viewBox="0 0 15 12"><path d="M1.300 5.800l4.400 4.200 8-8.700" fill="none" stroke="#4ba23a" stroke-width="3.300"/></svg>
<svg class="abs" style="left:37.5px;top:138.4px" width="15" height="12" viewBox="0 0 15 12"><path d="M1.300 5.800l4.400 4.200 8-8.700" fill="none" stroke="#4ba23a" stroke-width="3.300"/></svg>
<svg class="abs" style="left:12.5px;top:167.4px" width="15" height="12" viewBox="0 0 15 12"><path d="M1.300 5.800l4.400 4.200 8-8.700" fill="none" stroke="#4ba23a" stroke-width="3.300"/></svg>
<svg class="abs" style="left:12.5px;top:225.4px" width="15" height="12" viewBox="0 0 15 12"><path d="M1.300 5.800l4.400 4.200 8-8.700" fill="none" stroke="#4ba23a" stroke-width="3.300"/></svg>
<svg class="abs" style="left:12.5px;top:294.4px" width="15" height="12" viewBox="0 0 15 12"><path d="M1.300 5.800l4.400 4.200 8-8.700" fill="none" stroke="#4ba23a" stroke-width="3.300"/></svg>

</div>
</body></html>
